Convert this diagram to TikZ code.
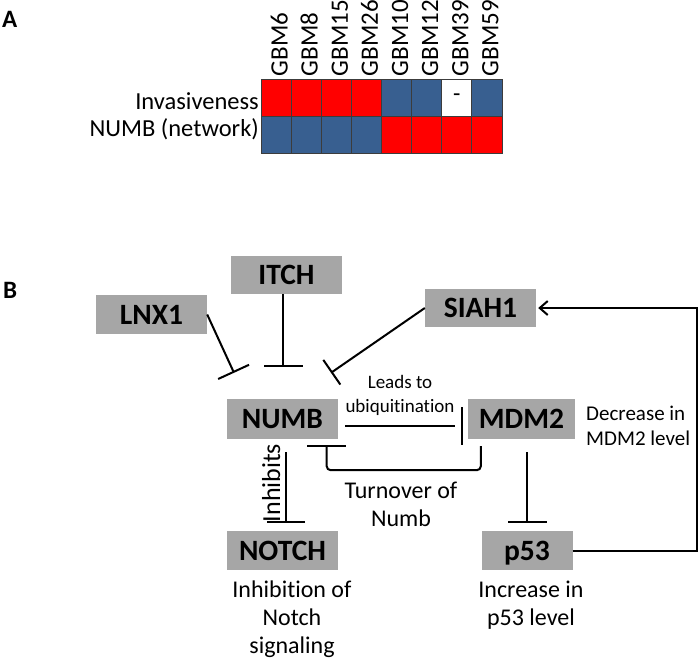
\documentclass[tikz,border=0pt]{standalone}
\usepackage{fontspec}
\setmainfont{Carlito}[Ligatures=NoCommon]
\usetikzlibrary{arrows.meta}
\definecolor{cellred}{RGB}{255,0,0}
\definecolor{cellblue}{RGB}{56,95,144}
\definecolor{boxgray}{RGB}{166,166,166}
\definecolor{gridline}{RGB}{60,60,60}
\begin{document}
\begin{tikzpicture}[x=1pt,y=-1pt,
  gene/.style={fill=boxgray, inner sep=0pt, font=\fontsize{29.5}{31}\selectfont\bfseries, text height=19pt, text depth=0pt},
  link/.style={line width=2pt},
  lbl/.style={inner sep=0pt, font=\fontsize{24}{28}\selectfont, align=center},
  cell/.style={draw=gridline, line width=0.9pt, minimum width=30.125pt, minimum height=37pt, inner sep=0pt, font=\fontsize{24}{28}\selectfont},
  panel/.style={inner sep=0pt, anchor=base west, font=\fontsize{25}{27}\selectfont\bfseries}
]
\fill[white] (0,0) rectangle (700,661);
\useasboundingbox (0,0) rectangle (700,661);

% ---------- Panel A ----------
\node[panel] (labA) at (2,28) {A};
\foreach \col/\t [count=\i] in {cellred/{},cellred/{},cellred/{},cellred/{},cellblue/{},cellblue/{},white/{-},cellblue/{}}
  \node[cell, fill=\col] (inv\i) at ({261+30.125*(\i-0.5)},97.5) {\t};
\foreach \col [count=\i] in {cellblue,cellblue,cellblue,cellblue,cellred,cellred,cellred,cellred}
  \node[cell, fill=\col] (numb\i) at ({261+30.125*(\i-0.5)},134.5) {};
\foreach \t [count=\i] in {GBM6,GBM8,GBM15,GBM26,GBM10,GBM12,GBM39,GBM59}
  \node[rotate=90, anchor=base west, inner sep=0pt, font=\fontsize{25}{28}\selectfont] (col\i) at ({261+30.125*(\i-0.5)+11.5},76.5) {\t};
\node[anchor=base east, inner sep=0pt, font=\fontsize{24.5}{28}\selectfont] (rowInv) at (259,109.5) {Invasiveness};
\node[anchor=base east, inner sep=0pt, font=\fontsize{24.5}{28}\selectfont] (rowNumb) at (259,136) {NUMB (network)};

% ---------- Panel B ----------
\node[panel] (labB) at (3,298) {B};
\node[gene, minimum width=111pt, minimum height=38pt] (ITCH) at (286.5,275) {ITCH};
\node[gene, minimum width=111pt, minimum height=39pt] (LNX1) at (151.5,314.5) {LNX1};
\node[gene, minimum width=111pt, minimum height=38pt] (SIAH1) at (480.5,308) {SIAH1};
\node[gene, minimum width=111pt, minimum height=40pt] (NUMB) at (282.5,419) {NUMB};
\node[gene, minimum width=107pt, minimum height=40pt] (MDM2) at (521.5,419) {MDM2};
\node[gene, minimum width=111pt, minimum height=39pt] (NOTCH) at (282.5,550.5) {NOTCH};
\node[gene, minimum width=91pt, minimum height=39pt] (p53) at (527,550.5) {p53};

% free ends of the inhibitor lines, just above NUMB
\coordinate (lnxT) at ([shift={(-48.5,-26)}]NUMB.north);
\coordinate (itchT) at ([shift={(0.5,-32)}]NUMB.north);
\coordinate (siahT) at ([shift={(48.5,-26)}]NUMB.north);

% inhibitors of NUMB
\draw[link,-{Bar[width=34pt]}] (LNX1.east) -- (lnxT);
\draw[link,-{Bar[width=39pt]}] (ITCH.south -| itchT) -- (itchT);
\draw[link,-{Bar[width=30pt]}] (SIAH1.west) -- (siahT);

% NUMB -- MDM2
\draw[link] ([shift={(7,7)}]NUMB.east) -- ([shift={(-13,7)}]MDM2.west);
\draw[link] ([shift={(-6,-12)}]MDM2.west) -- ([shift={(-6,26)}]MDM2.west);

% turnover of Numb
\draw[link, {Bar[width=39pt]}-, rounded corners=4pt] ([shift={(-11.5,6)}]NUMB.south east) |- ([shift={(13,31)}]MDM2.south west) -- ([shift={(13,7)}]MDM2.south west);

% NUMB -| NOTCH, MDM2 -| p53
\draw[link,-{Bar[width=38pt]}] ([shift={(3.5,13)}]NUMB.south) -- ([shift={(3.5,-8)}]NOTCH.north);
\draw[link,-{Bar[width=39pt]}] ([shift={(5.5,13)}]MDM2.south) -- ([shift={(0,-8)}]p53.north);

% p53 -> SIAH1
\draw[link,-{Straight Barb[length=8pt,width=14pt]}] (p53.east) -- ++(124,0) |- ([xshift=2pt]SIAH1.east);

% labels (anchor=base is the baseline of the last line)
\node[lbl, font=\fontsize{19}{24}\selectfont, anchor=base] (leads) at (400,412) {Leads to\\ubiquitination};
\node[lbl, font=\fontsize{21}{25}\selectfont, anchor=base west, align=left] (decr) at (586,445) {Decrease in\\MDM2 level};
\node[lbl, anchor=base] (turn) at (401,526) {Turnover of\\Numb};
\node[lbl, anchor=base] (inhN) at (292,653) {Inhibition of\\Notch\\signaling};
\node[lbl, anchor=base] (incr) at (531,625) {Increase in\\p53 level};
\node[lbl, rotate=90, anchor=base, font=\fontsize{26}{28}\selectfont] (inhb) at (280,483) {Inhibits};
\end{tikzpicture}
\end{document}
